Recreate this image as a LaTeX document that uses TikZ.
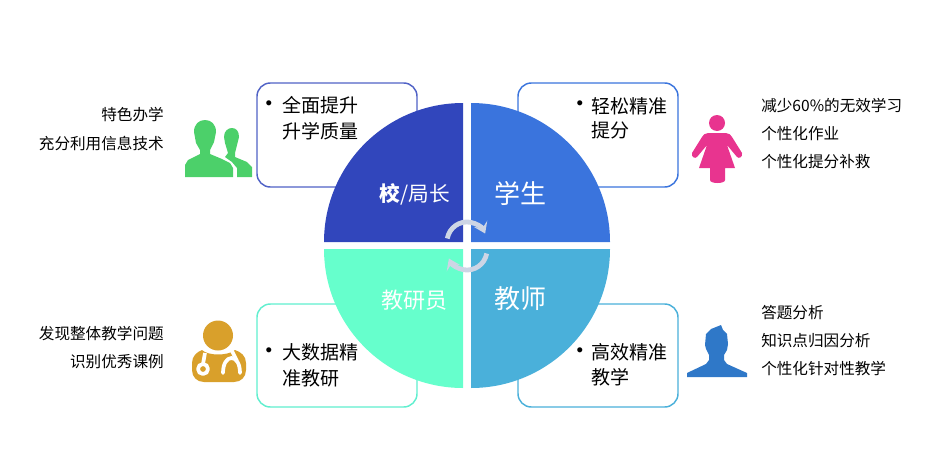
\documentclass[tikz,border=0pt]{standalone}
\usepackage{fontspec}
\setmainfont{Noto Sans CJK SC}
\newfontfamily\bulletfont{Liberation Sans}
\usetikzlibrary{arrows.meta}
\definecolor{headblue}{HTML}{3146BC}
\definecolor{studblue}{HTML}{3A74DD}
\definecolor{mintgreen}{HTML}{66FFCC}
\definecolor{teachblue}{HTML}{4AB0DA}
\definecolor{loopgray}{HTML}{CDD5E5}
\definecolor{peoplegreen}{HTML}{4CD06A}
\definecolor{womanpink}{HTML}{E8348F}
\definecolor{manblue}{HTML}{2F78C8}
\definecolor{doctorgold}{HTML}{D9A02B}
\tikzset{
	cardbox/.style={line width=1.1pt,rounded corners=10pt,fill=white},
	cardtxt/.style={anchor=west,inner sep=0pt,font=\fontsize{14.25}{16}\selectfont},
	bullettxt/.style={inner sep=0pt,font=\bulletfont\fontsize{14}{16}\selectfont},
	listtxt/.style={inner sep=0pt,font=\fontsize{11.7}{13}\selectfont},
	roletxt/.style={inner sep=0pt,text=white},
	looparrow/.style={loopgray,line width=3.6pt,-{Stealth[length=8pt,width=11pt,inset=3.5pt]}},
	tubeline/.style={white,line width=2.8pt}
}
\begin{document}
\begin{tikzpicture}[x=0.75pt,y=-0.75pt,line join=round]
	\useasboundingbox (0,0) rectangle (939,468);
	% cards behind the pie
	\draw[cardbox,draw=headblue!85!white] (257,83) rectangle (417,187);
	\draw[cardbox,draw=studblue] (518,83) rectangle (678,187);
	\draw[cardbox,draw=mintgreen!80!teachblue] (257,304) rectangle (417,407);
	\draw[cardbox,draw=teachblue] (518,304) rectangle (678,407);
	% pie
	\fill[headblue] (463,242)--++(-139,0) arc[start angle=180,end angle=270,radius=139]--cycle;
	\fill[studblue] (471,242)--++(0,-139) arc[start angle=270,end angle=360,radius=139]--cycle;
	\fill[teachblue] (471,249)--++(139,0) arc[start angle=0,end angle=90,radius=139]--cycle;
	\fill[mintgreen] (463,249)--++(0,139) arc[start angle=90,end angle=180,radius=139]--cycle;
	\node[roletxt,font=\fontsize{15.5}{17}\selectfont] (head) at (415,194) {\textbf{校}/局长};
	\node[roletxt,font=\fontsize{19.5}{22}\selectfont] (student) at (520,193) {学生};
	\node[roletxt,font=\fontsize{16.5}{18}\selectfont] (researcher) at (414,300) {教研员};
	\node[roletxt,font=\fontsize{19.5}{22}\selectfont] (teacher) at (520,299) {教师};
	% loop in the middle
	\draw[looparrow] (447.3,238.5) arc[start angle=190,end angle=335,radius=20];
	\draw[looparrow] (486.7,253.5) arc[start angle=10,end angle=155,radius=20];
	% card texts
	\node[bullettxt] (bulA) at (269,105) {•};
	\node[cardtxt] (cardA) at (282,105) {全面提升};
	\node[cardtxt] (cardAb) at (282,131) {升学质量};
	\node[bullettxt] (bulB) at (580,105) {•};
	\node[cardtxt] (cardB) at (591,106) {轻松精准};
	\node[cardtxt] (cardBb) at (591,130) {提分};
	\node[bullettxt] (bulC) at (269,352) {•};
	\node[cardtxt] (cardC) at (282,352) {大数据精};
	\node[cardtxt] (cardCb) at (282,378) {准教研};
	\node[bullettxt] (bulD) at (580,352) {•};
	\node[cardtxt] (cardD) at (591,352) {高效精准};
	\node[cardtxt] (cardDb) at (591,377) {教学};
	% outer lists
	\node[listtxt,anchor=east] (listA) at (164,114.5) {特色办学};
	\node[listtxt,anchor=east] (listAb) at (164,143.5) {充分利用信息技术};
	\node[listtxt,anchor=east] (listC) at (164,333.5) {发现整体教学问题};
	\node[listtxt,anchor=east] (listCb) at (164,361.5) {识别优秀课例};
	\node[listtxt,anchor=west] (listB) at (761,105.5) {减少60\%的无效学习};
	\node[listtxt,anchor=west] (listBb) at (761,133.5) {个性化作业};
	\node[listtxt,anchor=west] (listBc) at (761,161.5) {个性化提分补救};
	\node[listtxt,anchor=west] (listD) at (761,312.5) {答题分析};
	\node[listtxt,anchor=west] (listDb) at (761,340.5) {知识点归因分析};
	\node[listtxt,anchor=west] (listDc) at (761,368.5) {个性化针对性教学};
	% green people
	\fill[peoplegreen] (185,177)--(185,165)--(188,160)--(200,154)--(200,150)--(196,143)--(194,132)..controls (194,124) and (199,120)..(205,120)..controls (211,120) and (216,124)..(216,132)--(214,142)--(210,150)--(210,154)--(222,159)--(230,163)--(233,168)--(233,177)--cycle;
	\fill[peoplegreen] (237,177)--(237,168)--(232,162)--(225,157)--(228,153)--(225,143)--(224,137)..controls (224,131) and (228,128)..(232,128)..controls (236,128) and (239,131)..(239,137)--(237,145)--(235,153)--(235,157)--(247,162)--(252,167)--(252,177)--cycle;
	% woman
	\fill[womanpink] (717,123) circle (8);
	\fill[womanpink] (708,133)--(726,133)..controls (729,133) and (731,135)..(732,137)--(742,153)..controls (743,157) and (739,159)..(737,157)--(727,145)--(735,168)--(725,168)--(725,180)..controls (725,184) and (710,184)..(710,180)--(710,168)--(699,168)--(707,145)--(697,157)..controls (695,159) and (691,157)..(692,153)--(702,137)..controls (703,135) and (705,133)..(708,133)--cycle;
	% man
	\fill[manblue] (687,377)--(687,373)--(706,364)--(709,360)--(709,355)--(706,349)--(705,345)--(706,334)--(711,329)--(721,325)--(723,330)--(727,334)--(728,344)--(727,350)--(724,355)--(724,360)--(727,364)--(747,373)--(747,377)--cycle;
	% doctor
	\fill[doctorgold] (218,335.5) circle (15);
	\fill[doctorgold] (202,350)..controls (208,356) and (228,356)..(235,350)..controls (241,352) and (246,356)..(246,363)--(246,370)..controls (246,377) and (241,382)..(234,382)--(204,382)..controls (197,382) and (192,377)..(192,370)--(192,363)..controls (192,356) and (197,352)..(202,350)--cycle;
	\draw[tubeline] (205,353)--(203,364);
	\draw[tubeline] (203,369) circle (5);
	\draw[tubeline] (232,351)--(237,361);
	\draw[tubeline,line cap=round] (223,373)..controls (223,353) and (240,353)..(240,373);
\end{tikzpicture}
\end{document}
